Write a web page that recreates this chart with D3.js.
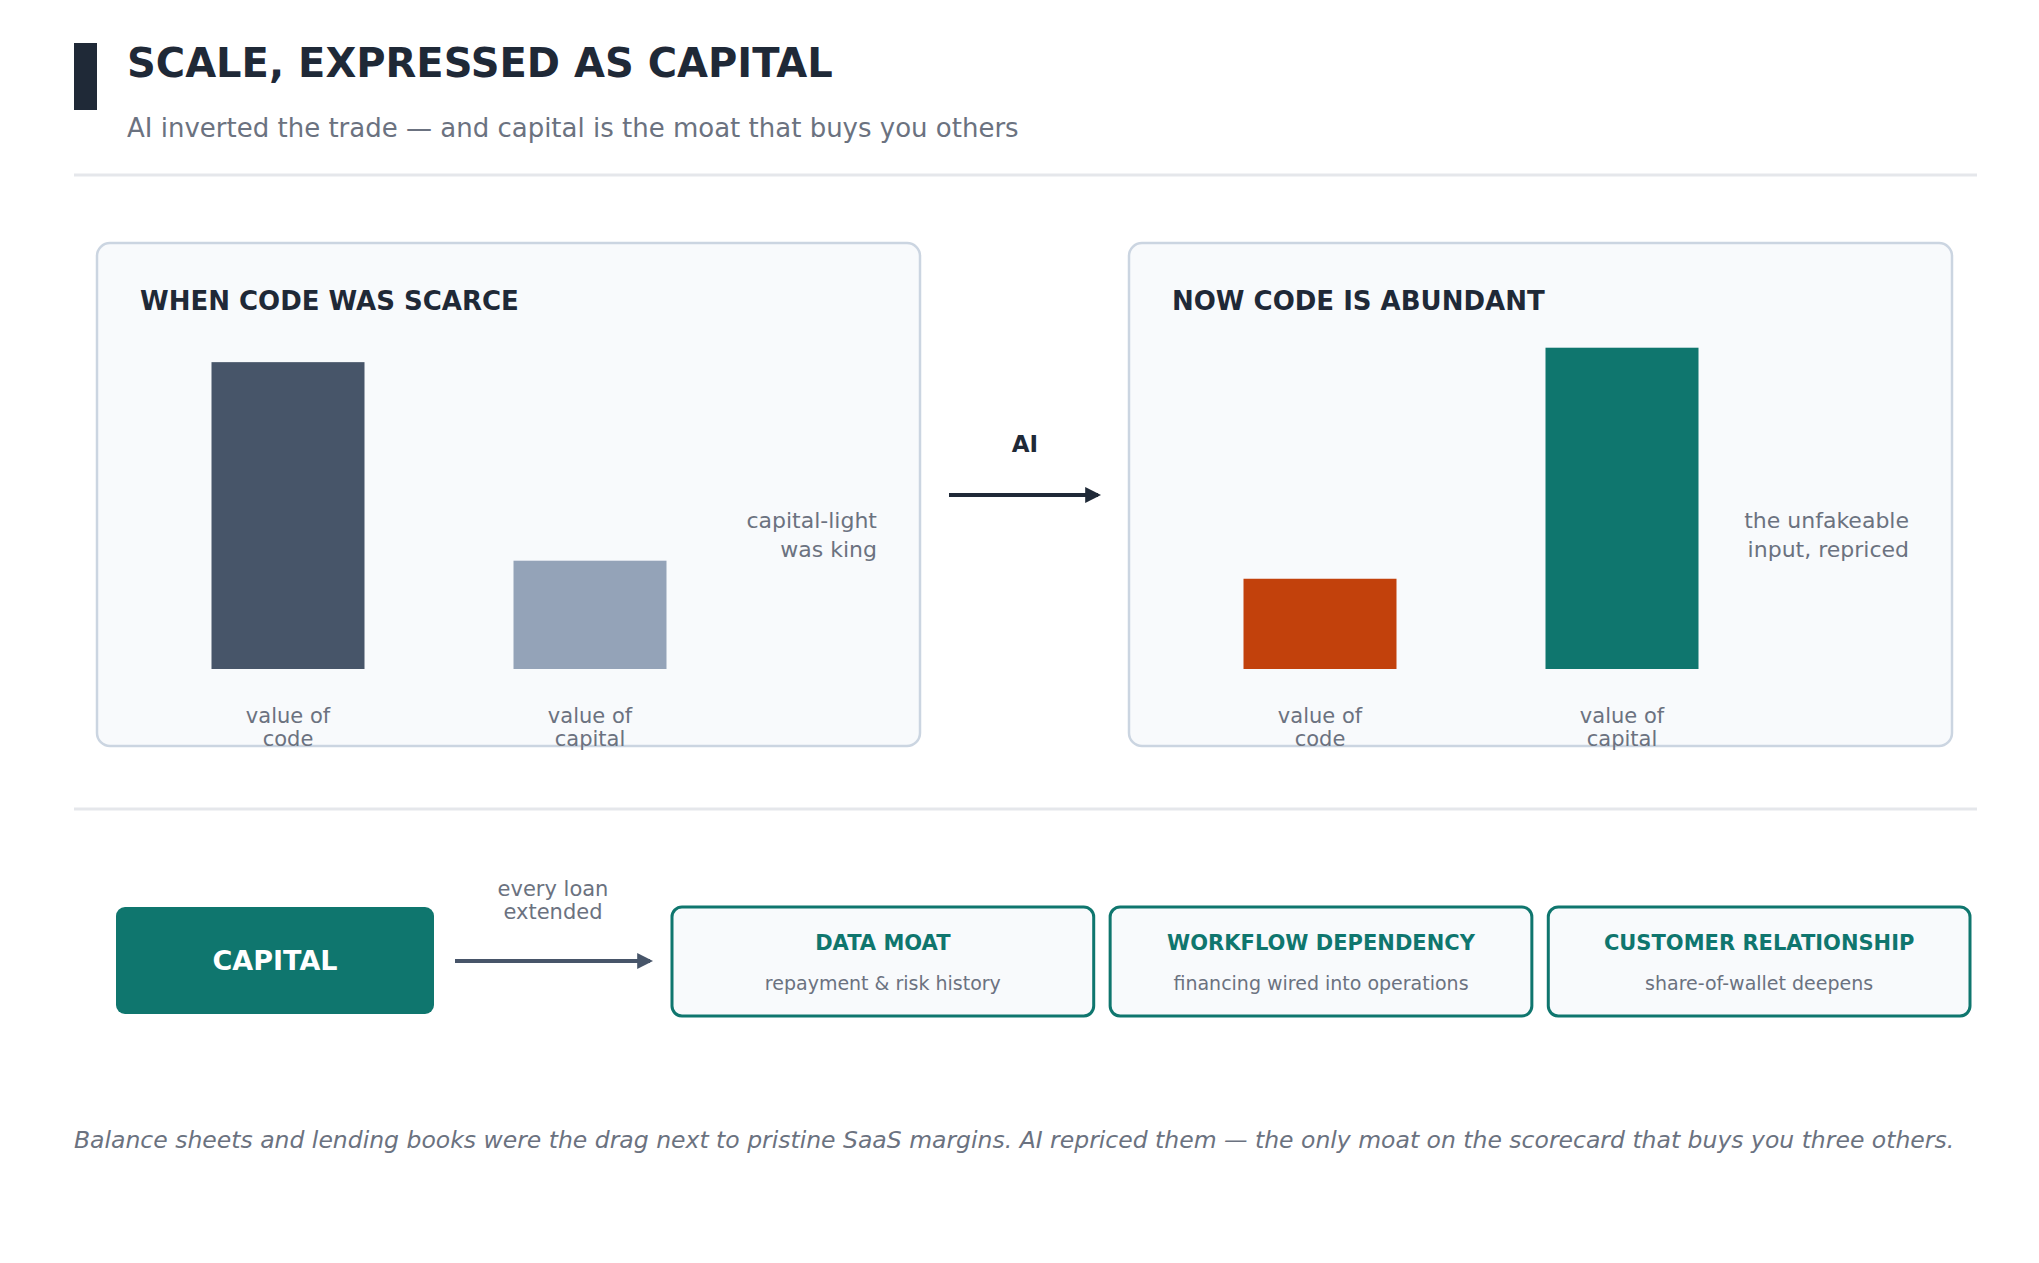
<!DOCTYPE html>
<html>
<head>
<meta charset="utf-8">
<script src="https://cdn.jsdelivr.net/npm/d3@7"></script>
<style>
  body { margin: 0; background: #fff; }
  svg { display: block; font-family: "DejaVu Sans", sans-serif; }
</style>
</head>
<body>
<div id="chart"></div>
<script>
// panel data
var panels = [
    {title: "WHEN CODE WAS SCARCE", x: 97, note: ["capital-light", "was king"]},
    {title: "NOW CODE IS ABUNDANT", x: 1129, note: ["the unfakeable", "input, repriced"]}
];
var categories = ["code", "capital"];
var scarceValues = [85, 30];
var abundantValues = [25, 89];
var barColors = [["#475569", "#94a3b8"], ["#c2410c", "#0f766e"]];

var moats = ["DATA MOAT", "WORKFLOW DEPENDENCY", "CUSTOMER RELATIONSHIP"];
var moatNotes = ["repayment & risk history", "financing wired into operations", "share-of-wallet deepens"];

var W = 2039, H = 1263;
var dark = "#1f2937", gray = "#6b7280", teal = "#0f766e";

var svg = d3.select("#chart").append("svg").attr("width", W).attr("height", H);

// header
svg.append("rect").attr("x", 74).attr("y", 43).attr("width", 23).attr("height", 67).attr("fill", dark);
svg.append("text").attr("x", 127).attr("y", 77).attr("font-size", 40).attr("font-weight", "bold")
    .attr("fill", dark).text("SCALE, EXPRESSED AS CAPITAL");
svg.append("text").attr("x", 127).attr("y", 137).attr("font-size", 26).attr("fill", gray)
    .text("AI inverted the trade — and capital is the moat that buys you others");
[175, 809].forEach(function(y) {
    svg.append("line").attr("x1", 74).attr("x2", 1977).attr("y1", y).attr("y2", y)
        .attr("stroke", "#e5e7eb").attr("stroke-width", 3);
});

var y = d3.scaleLinear().domain([0, 100]).range([669, 308]);
var allValues = [scarceValues, abundantValues];

panels.forEach(function(p, i) {
    var g = svg.append("g").attr("transform", "translate(" + p.x + ",0)");
    g.append("rect").attr("x", 0).attr("y", 243).attr("width", 823).attr("height", 503).attr("rx", 13)
        .attr("fill", "#f8fafc").attr("stroke", "#cbd5e1").attr("stroke-width", 2.5);
    g.append("text").attr("x", 43).attr("y", 310).attr("font-size", 26).attr("font-weight", "bold")
        .attr("fill", dark).text(p.title);

    var x = d3.scaleBand().domain(categories).range([40, 642]).paddingInner(0.98).paddingOuter(0.25);
    x = d3.scalePoint().domain(categories).range([191, 493]);
    var bw = 153;
    g.selectAll(".bar").data(allValues[i]).enter().append("rect")
        .attr("x", function(d, j) { return x(categories[j]) - bw / 2; })
        .attr("y", function(d) { return y(d); })
        .attr("width", bw)
        .attr("height", function(d) { return y(0) - y(d); })
        .attr("fill", function(d, j) { return barColors[i][j]; });

    categories.forEach(function(c) {
        var t = g.append("text").attr("text-anchor", "middle").attr("font-size", 21).attr("fill", gray);
        t.append("tspan").attr("x", x(c)).attr("y", 723).text("value of");
        t.append("tspan").attr("x", x(c)).attr("y", 746).text(c);
    });

    var n = g.append("text").attr("text-anchor", "end").attr("font-size", 22).attr("fill", gray);
    n.append("tspan").attr("x", 780).attr("y", 528).text(p.note[0]);
    n.append("tspan").attr("x", 780).attr("y", 557).text(p.note[1]);
});

// arrows
var defs = svg.append("defs");
function marker(id, color) {
    defs.append("marker").attr("id", id).attr("viewBox", "0 0 10 10").attr("refX", 8).attr("refY", 5)
        .attr("markerWidth", 4).attr("markerHeight", 4).attr("orient", "auto")
        .append("path").attr("d", "M0,0 L10,5 L0,10 z").attr("fill", color);
}
marker("arrDark", dark);
marker("arrSlate", "#475569");

svg.append("line").attr("x1", 949).attr("x2", 1098).attr("y1", 495).attr("y2", 495)
    .attr("stroke", dark).attr("stroke-width", 4).attr("marker-end", "url(#arrDark)");
svg.append("text").attr("x", 1025).attr("y", 452).attr("text-anchor", "middle").attr("font-size", 23)
    .attr("font-weight", "bold").attr("fill", dark).text("AI");

// capital flow
svg.append("rect").attr("x", 116).attr("y", 907).attr("width", 318).attr("height", 107).attr("rx", 9)
    .attr("fill", teal);
svg.append("text").attr("x", 275).attr("y", 970).attr("text-anchor", "middle").attr("font-size", 27)
    .attr("font-weight", "bold").attr("fill", "#fff").text("CAPITAL");

svg.append("line").attr("x1", 455).attr("x2", 650).attr("y1", 961).attr("y2", 961)
    .attr("stroke", "#475569").attr("stroke-width", 4).attr("marker-end", "url(#arrSlate)");
var el = svg.append("text").attr("text-anchor", "middle").attr("font-size", 21).attr("fill", gray);
el.append("tspan").attr("x", 553).attr("y", 896).text("every loan");
el.append("tspan").attr("x", 553).attr("y", 919).text("extended");

var mx = d3.scaleBand().domain(moats).range([672, 1970]).paddingInner(0.0375);
var mg = svg.selectAll(".moat").data(moats).enter().append("g");
mg.append("rect").attr("x", function(d) { return mx(d); }).attr("y", 907)
    .attr("width", mx.bandwidth()).attr("height", 109).attr("rx", 10)
    .attr("fill", "#f8fafc").attr("stroke", teal).attr("stroke-width", 3);
mg.append("text").attr("x", function(d) { return mx(d) + mx.bandwidth() / 2; }).attr("y", 950)
    .attr("text-anchor", "middle").attr("font-size", 21).attr("font-weight", "bold")
    .attr("fill", teal).text(function(d) { return d; });
mg.append("text").attr("x", function(d) { return mx(d) + mx.bandwidth() / 2; }).attr("y", 990)
    .attr("text-anchor", "middle").attr("font-size", 19).attr("fill", gray)
    .text(function(d, i) { return moatNotes[i]; });

svg.append("text").attr("x", 74).attr("y", 1148).attr("font-size", 23.5).attr("font-style", "italic")
    .attr("fill", gray)
    .text("Balance sheets and lending books were the drag next to pristine SaaS margins. AI repriced them — the only moat on the scorecard that buys you three others.");
</script>
</body>
</html>
